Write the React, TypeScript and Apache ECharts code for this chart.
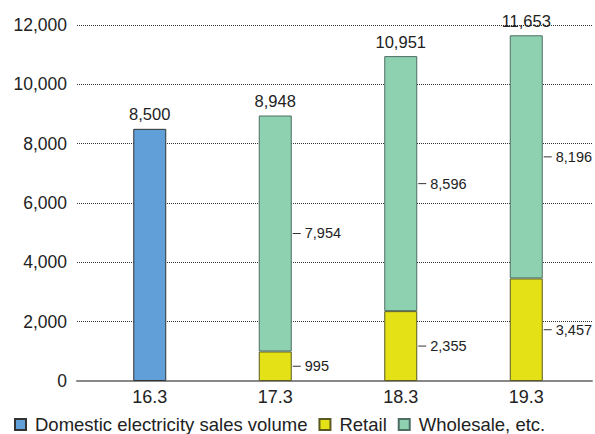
import React, { useEffect, useRef } from "react";
import * as echarts from "echarts";

const categories = ["16.3", "17.3", "18.3", "19.3"];
const domestic: (number | string)[] = [8500, "-", "-", "-"];
const retail: (number | string)[] = ["-", 995, 2355, 3457];
const wholesale: (number | string)[] = ["-", 7954, 8596, 8196];
const totals = [8500, 8948, 10951, 11653];
const yTicks = [0, 2000, 4000, 6000, 8000, 10000, 12000];

const FONT = "'Liberation Sans', Arial, Helvetica, sans-serif";
const fmt = (v: number) => v.toLocaleString("en-US");

export default function App() {
  const ref = useRef<HTMLDivElement>(null);
  useEffect(() => {
    document.body.style.margin = "0";
    const chart = echarts.init(ref.current!, null, { renderer: "svg" });
    const sideLabel = {
      show: true,
      position: "right",
      distance: 1,
      formatter: (p: any) => "{d|} " + fmt(p.value),
      color: "#222",
      fontFamily: FONT,
      fontSize: 14.5,
      rich: {
        d: { width: 8, height: 1, backgroundColor: "#333" },
      },
    };
    chart.setOption({
      animation: false,
      textStyle: { fontFamily: FONT },
      grid: [
        { left: 77, top: 25, width: 515, height: 356 },
        { left: 87, top: 25, width: 502, height: 356 },
      ],
      xAxis: [
        {
          gridIndex: 0,
          type: "value",
          min: 0,
          max: 1,
          axisLine: { show: true, onZero: false, lineStyle: { color: "#888", width: 2 } },
          axisTick: { show: false },
          axisLabel: { show: false },
          splitLine: { show: false },
        },
        {
          gridIndex: 1,
          type: "category",
          data: categories,
          axisLine: { show: false },
          axisTick: { show: false },
          axisLabel: { color: "#222", fontSize: 18, margin: 7, fontFamily: FONT },
        },
      ],
      yAxis: [
        {
          gridIndex: 0,
          type: "value",
          min: yTicks[0],
          max: yTicks[yTicks.length - 1],
          interval: 2000,
          axisLine: { show: false },
          axisTick: { show: false },
          axisLabel: {
            color: "#222",
            fontSize: 17.5,
            margin: 10,
            fontFamily: FONT,
            formatter: (v: number) => fmt(v),
          },
          splitLine: {
            show: true,
            lineStyle: { type: "dotted", color: "#333", width: 1 },
          },
        },
        {
          gridIndex: 1,
          type: "value",
          min: yTicks[0],
          max: yTicks[yTicks.length - 1],
          interval: 2000,
          axisLine: { show: false },
          axisTick: { show: false },
          axisLabel: { show: false },
          splitLine: { show: false },
        },
      ],
      legend: {
        left: 14,
        top: 415,
        padding: 0,
        itemWidth: 11,
        itemHeight: 11,
        itemGap: 11,
        icon: "rect",
        data: ["Domestic electricity sales volume", "Retail", "Wholesale, etc."],
        textStyle: {
          color: "#222",
          fontSize: 18.5,
          fontFamily: FONT,
          padding: [0, 0, 0, 4],
        },
      },
      series: [
        {
          name: "Domestic electricity sales volume",
          type: "bar",
          xAxisIndex: 1,
          yAxisIndex: 1,
          stack: "s",
          barWidth: 33,
          data: domestic,
          itemStyle: { color: "#609fd8", borderColor: "#333", borderWidth: 1 },
        },
        {
          name: "Retail",
          type: "bar",
          xAxisIndex: 1,
          yAxisIndex: 1,
          stack: "s",
          barWidth: 33,
          data: retail,
          itemStyle: { color: "#e4e117", borderColor: "#5a5a20", borderWidth: 1 },
          label: sideLabel,
        },
        {
          name: "Wholesale, etc.",
          type: "bar",
          xAxisIndex: 1,
          yAxisIndex: 1,
          stack: "s",
          barWidth: 33,
          data: wholesale,
          itemStyle: { color: "#8ed1b1", borderColor: "#4d6e62", borderWidth: 1 },
          label: sideLabel,
        },
        {
          name: "total",
          type: "bar",
          xAxisIndex: 1,
          yAxisIndex: 1,
          stack: "s",
          barWidth: 33,
          data: totals.map(() => 0),
          itemStyle: { color: "transparent", borderWidth: 0 },
          label: {
            show: true,
            position: "top",
            distance: 6,
            color: "#222",
            fontSize: 16.5,
            fontFamily: FONT,
            formatter: (p: any) => fmt(totals[p.dataIndex]),
          },
        },
      ],
    });
    return () => chart.dispose();
  }, []);
  return <div ref={ref} style={{ width: 595, height: 434 }} />;
}
